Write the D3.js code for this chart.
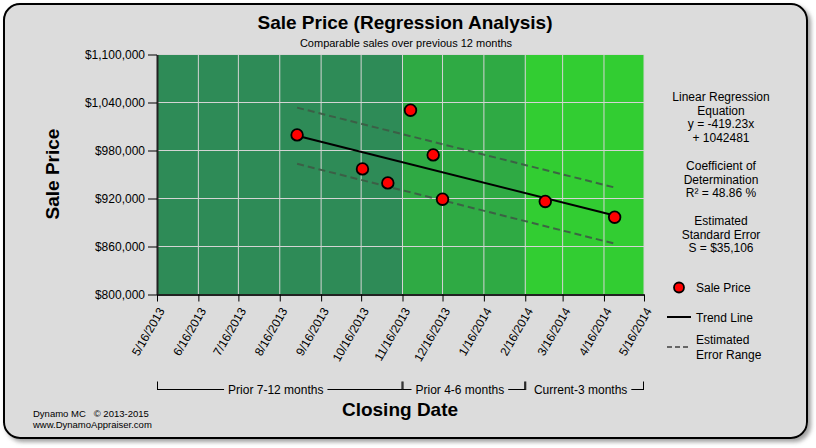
<!DOCTYPE html>
<html>
<head>
<meta charset="utf-8">
<script src="https://cdn.jsdelivr.net/npm/d3@7"></script>
<style>
  body { margin: 0; background: #fff; }
  text { font-family: "Liberation Sans", Arial, sans-serif; fill: #000; }
</style>
</head>
<body>
<svg id="chart" width="816" height="448"></svg>
<script>
// data
var saleDates = ["2013-08-29", "2013-11-22", "2013-12-09", "2013-10-17", "2013-11-05", "2013-12-16", "2014-03-03", "2014-04-24"];
var salePrices = [999500, 1030400, 974500, 957000, 939500, 919100, 916300, 896600];

var monthTicks = ["2013-05-16", "2013-06-16", "2013-07-16", "2013-08-16", "2013-09-16", "2013-10-16", "2013-11-16",
  "2013-12-16", "2014-01-16", "2014-02-16", "2014-03-16", "2014-04-16", "2014-05-16"];
var priceTicks = [800000, 860000, 920000, 980000, 1040000, 1100000];

var periodLabels = ["Prior 7-12 months", "Prior 4-6 months", "Current-3 months"];
var periodStarts = ["2013-05-16", "2013-11-16", "2014-02-16"];
var periodEnds = ["2013-11-16", "2014-02-16", "2014-05-16"];
var periodColors = ["#2e8b57", "#2faa44", "#32cd32"];

// regression numbers shown in the chart
var slope = -419.23;
var intercept = 1042481;
var stdError = 35106;

var statLines = [
  ["Linear Regression", "Equation", "y = -419.23x", "+ 1042481"],
  ["Coefficient of", "Determination", "R\u00b2 = 48.86 %"],
  ["Estimated", "Standard Error", "S = $35,106"]
];

var parse = d3.timeParse("%Y-%m-%d");
var svg = d3.select("#chart");

// frame with shadow
var defs = svg.append("defs");
var f = defs.append("filter").attr("id", "shadow").attr("x", "-5%").attr("y", "-5%").attr("width", "110%").attr("height", "115%");
f.append("feDropShadow").attr("dx", 3).attr("dy", 3).attr("stdDeviation", 2).attr("flood-color", "#777").attr("flood-opacity", 0.7);

svg.append("rect")
  .attr("x", 4).attr("y", 4).attr("width", 803).attr("height", 434)
  .attr("rx", 16).attr("ry", 16)
  .style("fill", "#dcdcdc").style("stroke", "#000").style("stroke-width", 2)
  .attr("filter", "url(#shadow)");

var pLeft = 157, pRight = 644, pTop = 54.5, pBottom = 294.5;

var x = d3.scaleTime().domain([parse(monthTicks[0]), parse(monthTicks[monthTicks.length - 1])]).range([pLeft, pRight]);
var y = d3.scaleLinear().domain([800000, 1100000]).range([pBottom, pTop]);

// background bands
for (var i = 0; i < periodLabels.length; i++) {
  svg.append("rect")
    .attr("x", x(parse(periodStarts[i])))
    .attr("y", pTop)
    .attr("width", x(parse(periodEnds[i])) - x(parse(periodStarts[i])))
    .attr("height", pBottom - pTop)
    .style("fill", periodColors[i]);
}

// grid
svg.selectAll(".vgrid").data(monthTicks).enter().append("line")
  .attr("x1", function(d) { return x(parse(d)); })
  .attr("x2", function(d) { return x(parse(d)); })
  .attr("y1", pTop).attr("y2", pBottom)
  .style("stroke", "#d4d4d4").style("stroke-width", 1);
svg.selectAll(".hgrid").data(priceTicks).enter().append("line")
  .attr("x1", pLeft).attr("x2", pRight)
  .attr("y1", function(d) { return y(d); })
  .attr("y2", function(d) { return y(d); })
  .style("stroke", "#d4d4d4").style("stroke-width", 1);

// axes
var yAxis = d3.axisLeft(y).tickValues(priceTicks).tickFormat(d3.format("$,")).tickSize(9).tickSizeOuter(0).tickPadding(3);
var gy = svg.append("g").attr("transform", "translate(" + pLeft + ",0)").call(yAxis)
  .attr("font-size", 12).attr("font-family", "'Liberation Sans', Arial, sans-serif");
gy.selectAll("text").style("font-size", "12px");
gy.select(".domain").style("stroke", "#222").style("stroke-width", 2);

var xAxis = d3.axisBottom(x).tickValues(monthTicks.map(parse)).tickFormat(d3.timeFormat("%-m/%-d/%Y")).tickSize(7).tickSizeOuter(0);
var gx = svg.append("g").attr("transform", "translate(0," + pBottom + ")").call(xAxis)
  .attr("font-size", 12).attr("font-family", "'Liberation Sans', Arial, sans-serif");
gx.select(".domain").style("stroke", "#222").style("stroke-width", 2);
gx.selectAll("text")
  .style("font-size", "12px")
  .attr("text-anchor", "end")
  .attr("x", 0).attr("y", 0).attr("dy", "0.35em")
  .attr("transform", "translate(4,14) rotate(-60)");

// error range and trend line
var origin = parse(monthTicks[0]);
var firstDate = d3.min(saleDates.map(parse));
var lastDate = d3.max(saleDates.map(parse));
function trendAt(d) {
  var days = (d - origin) / 86400000;
  return slope * days + intercept;
}
var ends = [firstDate, lastDate];
var lineGen = d3.line().x(function(d) { return x(d[0]); }).y(function(d) { return y(d[1]); });

[stdError, -stdError].forEach(function(off) {
  svg.append("path")
    .attr("d", lineGen(ends.map(function(d) { return [d, trendAt(d) + off]; })))
    .style("fill", "none").style("stroke", "#3d5a45").style("stroke-width", 2)
    .style("stroke-dasharray", "7,4").style("stroke-opacity", 0.9);
});
svg.append("path")
  .attr("d", lineGen(ends.map(function(d) { return [d, trendAt(d)]; })))
  .style("fill", "none").style("stroke", "#000").style("stroke-width", 2);

// points
svg.selectAll(".pt").data(saleDates).enter().append("circle")
  .attr("cx", function(d) { return x(parse(d)); })
  .attr("cy", function(d, i) { return y(salePrices[i]); })
  .attr("r", 5.8)
  .style("fill", "#ff0000").style("stroke", "#000").style("stroke-width", 1.8);

// titles
svg.append("text").attr("x", 405).attr("y", 29).attr("text-anchor", "middle")
  .style("font-size", "19px").style("font-weight", "bold").text("Sale Price (Regression Analysis)");
svg.append("text").attr("x", 406).attr("y", 47).attr("text-anchor", "middle")
  .style("font-size", "11px").text("Comparable sales over previous 12 months");
svg.append("text").attr("transform", "translate(59,174) rotate(-90)").attr("text-anchor", "middle")
  .style("font-size", "19px").style("font-weight", "bold").text("Sale Price");
svg.append("text").attr("x", 400).attr("y", 416).attr("text-anchor", "middle")
  .style("font-size", "19px").style("font-weight", "bold").text("Closing Date");

// period brackets
for (var k = 0; k < periodLabels.length; k++) {
  var x0 = x(parse(periodStarts[k])), x1 = x(parse(periodEnds[k]));
  var by = 389.5;
  var cx = (x0 + x1) / 2 - 4;
  var t = svg.append("text").attr("x", cx).attr("y", by + 4.5).attr("text-anchor", "middle")
    .style("font-size", "12px").text(periodLabels[k]);
  var w = t.node().getComputedTextLength();
  var tl = cx - w / 2 - 4, tr = cx + w / 2 + 4;
  if (tl > x0 + 5) svg.append("line").attr("x1", x0).attr("x2", tl).attr("y1", by).attr("y2", by).style("stroke", "#000");
  if (tr < x1 - 1) svg.append("line").attr("x1", tr).attr("x2", x1).attr("y1", by).attr("y2", by).style("stroke", "#000");
  svg.append("line").attr("x1", x0 + 0.5).attr("x2", x0 + 0.5).attr("y1", by - 8).attr("y2", by + 0.5).style("stroke", "#000");
  svg.append("line").attr("x1", x1 - 0.5).attr("x2", x1 - 0.5).attr("y1", by - 8).attr("y2", by + 0.5).style("stroke", "#000");
}

// stats text
var sy = 101;
statLines.forEach(function(block) {
  block.forEach(function(line) {
    svg.append("text").attr("x", 721).attr("y", sy).attr("text-anchor", "middle")
      .style("font-size", "12px").text(line);
    sy += 13.7;
  });
  sy += 14;
});

// legend
svg.append("circle").attr("cx", 679).attr("cy", 287.5).attr("r", 5)
  .style("fill", "#ff0000").style("stroke", "#000").style("stroke-width", 1.8);
svg.append("text").attr("x", 696).attr("y", 292).style("font-size", "12px").text("Sale Price");
svg.append("line").attr("x1", 667).attr("x2", 691).attr("y1", 317).attr("y2", 317)
  .style("stroke", "#000").style("stroke-width", 2);
svg.append("text").attr("x", 696).attr("y", 322).style("font-size", "12px").text("Trend Line");
svg.append("line").attr("x1", 667).attr("x2", 690).attr("y1", 347).attr("y2", 347)
  .style("stroke", "#666").style("stroke-width", 2).style("stroke-dasharray", "5,3");
svg.append("text").attr("x", 696).attr("y", 344).style("font-size", "12px").text("Estimated");
svg.append("text").attr("x", 696).attr("y", 359).style("font-size", "12px").text("Error Range");

// footer
svg.append("text").attr("x", 33).attr("y", 417).style("font-size", "9.5px").style("white-space", "pre")
  .text("Dynamo MC   \u00a9 2013-2015");
svg.append("text").attr("x", 33).attr("y", 428).style("font-size", "9.5px").text("www.DynamoAppraiser.com");
</script>
</body>
</html>
